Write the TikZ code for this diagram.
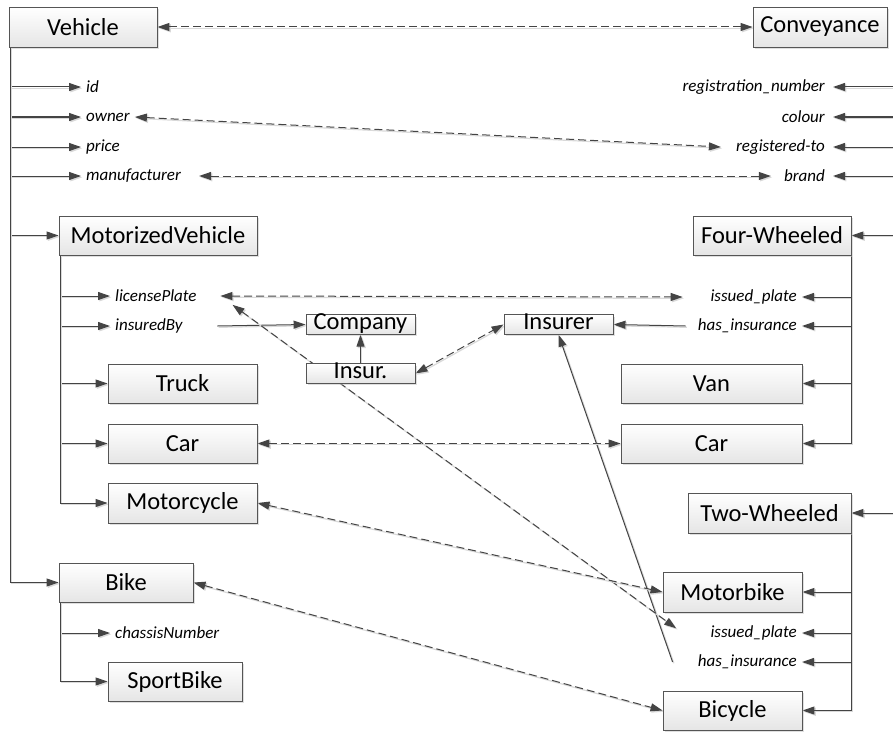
\documentclass[tikz,border=0pt]{standalone}
\usepackage{fontspec}
\setmainfont{Carlito}
\usetikzlibrary{arrows.meta,shadows}
\pgfdeclarelayer{bg}
\pgfsetlayers{bg,main}
\definecolor{edge}{HTML}{444444}
\definecolor{frame}{HTML}{555555}
\tikzset{
  cls/.style={draw=frame, line width=0.9pt, top color=white, bottom color=black!10,
    drop shadow={shadow xshift=2pt, shadow yshift=-2pt, fill=black!25},
    inner sep=0pt, font=\fontsize{24.5}{28}\selectfont, text=black},
  tiny/.style={cls, minimum width=109pt, minimum height=19pt, text height=15pt, text depth=4.5pt},
  attr/.style={font=\itshape\fontsize{17}{20}\selectfont, inner ysep=2pt, text=black},
  attrL/.style={attr, anchor=west, inner xsep=5pt},
  attrR/.style={attr, anchor=east, inner xsep=8pt},
  port/.style={attr, anchor=east, inner xsep=5pt, align=right},
  head/.tip={Triangle[length=12pt,width=8pt]},
  lineshadow/.style={preaction={draw=black!15, line width=1.2pt,
    transform canvas={xshift=1.3pt,yshift=-1.3pt}}},
  tree/.style={draw=edge, line width=1pt, -head, lineshadow},
  link/.style={draw=edge, line width=1pt, dash pattern=on 8pt off 4pt, head-head, lineshadow},
  single/.style={tree},
}
\begin{document}
\begin{tikzpicture}[x=1pt,y=-1pt]
\useasboundingbox (0,0) rectangle (893,733);
\clip (0,0) rectangle (893,733);

% left hierarchy
\node[cls, minimum width=148pt, minimum height=40pt] (veh) at (83,27) {Vehicle};
\node[attrL] (id) at (81,87) {id};
\node[attrL] (owner) at (81,117) {owner};
\node[attrL] (price) at (81,147) {price};
\node[attrL] (manu) at (81,176) {manufacturer};
\node[cls, minimum width=198pt, minimum height=39pt] (mv) at (158,235.5) {MotorizedVehicle};
\node[attrL, text width=100pt, align=left] (lp) at (110,296) {licensePlate};
\node[attrL, text width=97pt, align=left] (ib) at (110,326) {insuredBy};
\node[cls, minimum width=149pt, minimum height=39pt] (truck) at (182.5,383.5) {Truck};
\node[cls, minimum width=149pt, minimum height=39pt] (carL) at (182.5,443.5) {Car};
\node[cls, minimum width=149pt, minimum height=40pt] (moto) at (182.5,503) {Motorcycle};
\node[cls, minimum width=134pt, minimum height=39pt] (bike) at (126,582.5) {Bike};
\node[attrL] (cn) at (110,633) {chassisNumber};
\node[cls, minimum width=134pt, minimum height=39pt] (sport) at (175,681.5) {SportBike};

% right hierarchy
\node[cls, minimum width=134pt, minimum height=40pt] (conv) at (820,27) {Conveyance};
\coordinate (convtrunk) at (897,47);
\node[attrR] (rn) at (833,87) {registration\_number};
\node[attrR] (colour) at (833,117) {colour};
\node[attrR] (rt) at (833,147) {registered-to};
\node[attrR] (brand) at (833,176) {brand};
\node[cls, minimum width=158pt, minimum height=39pt] (fw) at (772,235.5) {Four-Wheeled};
\node[port, text width=109pt] (ipA) at (802,297) {issued\_plate};
\node[port, text width=106pt] (hiA) at (802,326) {has\_insurance};
\node[cls, minimum width=181pt, minimum height=39pt] (van) at (711.5,383.5) {Van};
\node[cls, minimum width=181pt, minimum height=39pt] (carR) at (711.5,443.5) {Car};
\node[cls, minimum width=163pt, minimum height=40pt] (tw) at (769.5,513) {Two-Wheeled};
\node[cls, minimum width=139pt, minimum height=40pt] (mbike) at (732.5,592) {Motorbike};
\node[port, text width=109pt] (ipB) at (802,633) {issued\_plate};
\node[port, text width=119pt] (hiB) at (802,662) {has\_insurance};
\node[cls, minimum width=139pt, minimum height=39pt] (bicycle) at (732.5,710.5) {Bicycle};

% insurance classes
\node[tiny] (company) at (360.5,324.5) {Company};
\node[tiny] (insur) at (360.5,373.5) {Insur.};
\node[tiny] (insurer) at (558.5,324.5) {Insurer};

\begin{pgfonlayer}{bg}
  % subclass / attribute trees
  \foreach \c in {id,owner,price,manu,mv,bike}
    \draw[tree] ([xshift=2pt]veh.south west) |- (\c.west);
  \foreach \c in {lp,ib,truck,carL,moto}
    \draw[tree] ([xshift=2pt]mv.south west) |- (\c.west);
  \foreach \c in {cn,sport}
    \draw[tree] ([xshift=2pt]bike.south west) |- (\c.west);
  \foreach \c in {rn,colour,rt,brand,fw,tw}
    \draw[tree] (convtrunk) |- (\c.east);
  \foreach \c in {ipA,hiA,van,carR}
    \draw[tree] (fw.south east) |- (\c.east);
  \foreach \c in {mbike,ipB,hiB,bicycle}
    \draw[tree] (tw.south east) |- (\c.east);

  % references to the insurance classes
  \draw[single] (ib.east) -- (company.west);
  \draw[single] (insur.north) -- (company.south);
  \draw[single] (hiA.west) -- (insurer.east);
  \draw[single] (hiB.west) -- (insurer.south);

  % correspondences
  \draw[link] (veh.east) -- (conv.west);
  \draw[link] (owner.east) -- ([xshift=-7pt]rt.west);
  \draw[link, shorten <=13pt] (manu.east) -- ([xshift=-5pt]brand.west);
  \draw[link] (lp.east) -- (ipA.west);
  \draw[link, shorten <=15pt, shorten >=8pt] (lp.east) -- (ipB.west);
  \draw[link] (insur.east) -- (insurer.west);
  \draw[link] (carL.east) -- (carR.west);
  \draw[link] (moto.east) -- (mbike.west);
  \draw[link] (bike.east) -- (bicycle.west);
\end{pgfonlayer}
\end{tikzpicture}
\end{document}
